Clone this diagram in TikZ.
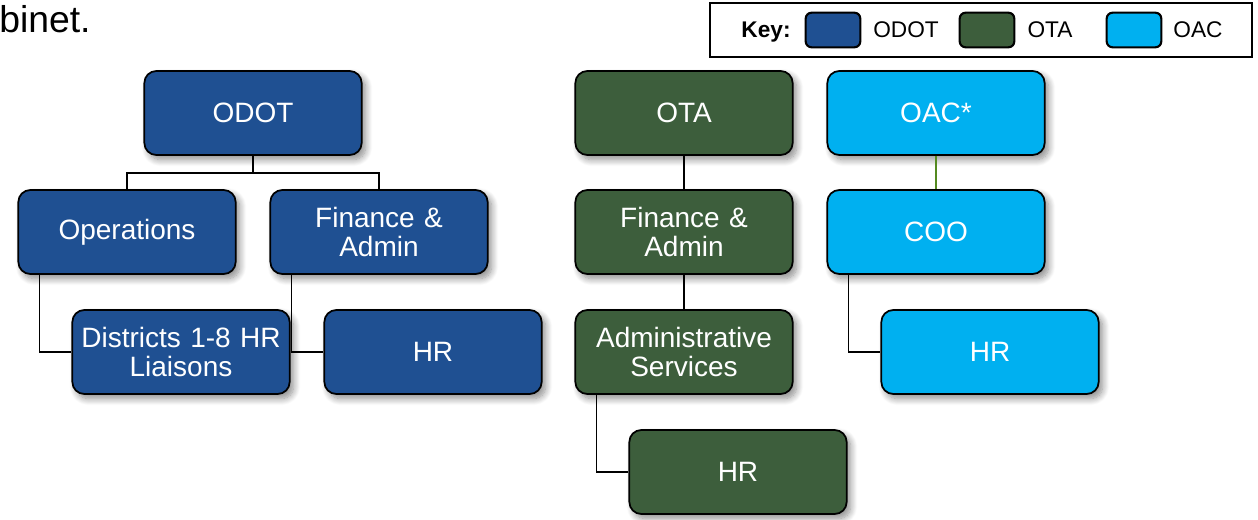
\documentclass[tikz,border=0pt]{standalone}
\usepackage{fontspec}
\setmainfont{Liberation Sans}
\usetikzlibrary{shadows.blur,backgrounds}
\definecolor{odotblue}{RGB}{31,80,146}
\definecolor{otagreen}{RGB}{61,94,60}
\definecolor{oaccyan}{RGB}{0,176,240}
\definecolor{linkgreen}{RGB}{84,138,32}
\tikzset{
  orgbox/.style={draw=black, line width=1.3pt, rounded corners=9pt,
    minimum width=162.75pt, minimum height=63pt, inner sep=1pt,
    text width=161pt, align=center, text=white,
    font=\fontsize{21}{21.75}\selectfont,
    blur shadow={shadow xshift=3pt, shadow yshift=-3.5pt, shadow blur steps=10, shadow blur radius=5pt, shadow opacity=45}},
  odotbox/.style={orgbox, fill=odotblue},
  otabox/.style={orgbox, fill=otagreen},
  oacbox/.style={orgbox, fill=oaccyan},
  link/.style={draw=black, line width=1.45pt},
  swatch/.style={draw=black, line width=1.6pt, rounded corners=4.5pt,
    minimum width=41pt, minimum height=26pt, inner sep=0pt},
  keytext/.style={font=\fontsize{17}{20}\selectfont, anchor=base, inner sep=0pt}
}
\begin{document}
\begin{tikzpicture}[x=0.75pt,y=-0.75pt]
\useasboundingbox (0,0) rectangle (1258,520);
% top-left text fragment
\node[anchor=west, inner sep=0pt, font=\fontsize{28}{32}\selectfont] (frag) at (-1,19) {binet.};
% key
\node[draw=black, line width=1.7pt, minimum width=406.5pt, minimum height=40.5pt, inner sep=0pt] (key) at (981,30) {};
\node[keytext, font=\bfseries\fontsize{17}{20}\selectfont] (keylbl) at (766,38) {Key:};
\node[swatch, fill=odotblue] (sw1) at (833,30) {};
\node[keytext] (k1) at (906,38) {ODOT};
\node[swatch, fill=otagreen] (sw2) at (987,30) {};
\node[keytext] (k2) at (1050,38) {OTA};
\node[swatch, fill=oaccyan] (sw3) at (1134,30) {};
\node[keytext] (k3) at (1198,38) {OAC};
% ODOT
\node[odotbox] (odot) at (253,113) {ODOT};
\node[odotbox] (ops) at (127,232) {Operations};
\node[odotbox] (fin) at (379,232) {Finance \&\\Admin};
\node[odotbox] (dist) at (181,352) {Districts 1-8 HR\\Liaisons};
\node[odotbox] (hr1) at (433,352) {HR};
% OTA
\node[otabox] (ota) at (684,113) {OTA};
\node[otabox] (otafin) at (684,232) {Finance \&\\Admin};
\node[otabox] (adm) at (684,352) {Administrative\\Services};
\node[otabox] (hr2) at (738,472) {HR};
% OAC
\node[oacbox] (oac) at (936,113) {OAC*};
\node[oacbox] (coo) at (936,232) {COO};
\node[oacbox] (hr3) at (990,352) {HR};
% connectors
\coordinate (j1) at (253,173);
\draw[link] (odot.south) -- (j1) -| (ops.north);
\draw[link] (j1) -| (fin.north);
\draw[link] ([xshift=16.5pt]ops.south west) |- (dist.west);
\draw[link] ([xshift=16.5pt]fin.south west) |- (hr1.west);
\draw[link] (ota.south) -- (otafin.north);
\draw[link] (otafin.south) -- (adm.north);
\draw[link] ([xshift=16.5pt]adm.south west) |- (hr2.west);
\draw[draw=linkgreen, line width=1.45pt] (oac.south) -- (coo.north);
\draw[link] ([xshift=16.5pt]coo.south west) |- (hr3.west);
\end{tikzpicture}
\end{document}
